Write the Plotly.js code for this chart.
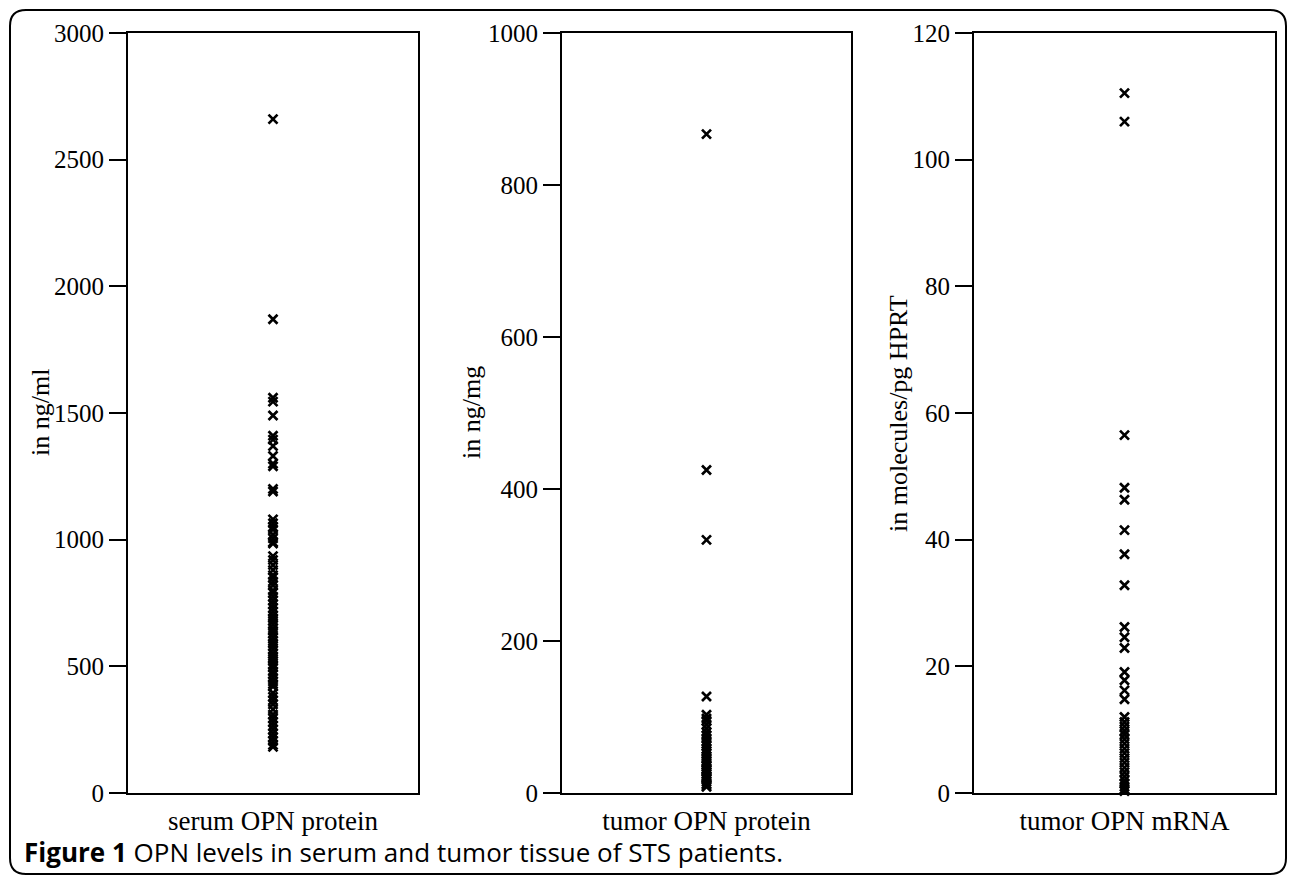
<!DOCTYPE html>
<html>
<head>
<meta charset="utf-8">
<script src="https://cdn.plot.ly/plotly-3.0.1.min.js"></script>
<style>html,body{margin:0;padding:0;background:#fff;}#chart{width:1290px;height:878px;}</style>
</head>
<body>
<div id="chart"></div>
<script>
// ---- data ----
const categories = ["serum OPN protein", "tumor OPN protein", "tumor OPN mRNA"];
const yTitles = ["in ng/ml", "in ng/mg", "in molecules/pg HPRT"];
const serumProtein = [2660, 1870, 1560, 1545, 1490, 1410, 1395, 1370, 1330, 1300, 1290, 1200, 1190,
  1080, 1065, 1050, 1040, 1020, 1005, 990, 985, 935, 920, 900, 880, 860, 850, 835, 820, 800, 790,
  775, 760, 745, 730, 715, 700, 690, 680, 665, 650, 640, 630, 615, 600, 590, 580, 565, 550, 540,
  530, 520, 505, 495, 480, 470, 455, 440, 430, 420, 395, 380, 365, 350, 330, 310, 295, 280, 265,
  250, 235, 220, 205, 190, 182];
const tumorProtein = [867, 425, 333, 127, 103, 98, 95, 90, 85, 80, 76, 72, 68, 65, 62, 58, 55, 52,
  48, 45, 42, 40, 37, 35, 32, 30, 28, 25, 22, 20, 18, 15, 12, 10, 8];
const tumorMRNA = [110.5, 106, 56.5, 48.2, 46.3, 41.5, 37.7, 32.8, 26.2, 24.6, 22.9, 19.1, 17.8,
  16.2, 14.8, 12, 11.2, 10.5, 9.8, 9.2, 8.5, 7.8, 7, 6.3, 5.5, 4.8, 4, 3.3, 2.6, 2, 1.5, 1, 0.6, 0.3];
const yRanges = [[0, 3000], [0, 1000], [0, 120]];
const yTicks = [
  [0, 500, 1000, 1500, 2000, 2500, 3000],
  [0, 200, 400, 600, 800, 1000],
  [0, 20, 40, 60, 80, 100, 120]
];
const caption = "<b>Figure 1</b> OPN levels in serum and tumor tissue of STS patients.";

// ---- layout helpers ----
const W = 1290, H = 878;
const px = v => v / W;
const py = v => 1 - v / H;
const xDomains = [[px(128), px(418)], [px(562), px(851)], [px(974), px(1275)]];
const yDomain = [py(793), py(33)];
const serif = "Liberation Serif, Times New Roman, serif";

const series = [serumProtein, tumorProtein, tumorMRNA];
const traces = series.map((vals, i) => ({
  type: "scatter",
  mode: "markers",
  x: vals.map(() => categories[i]),
  y: vals,
  xaxis: i === 0 ? "x" : "x" + (i + 1),
  yaxis: i === 0 ? "y" : "y" + (i + 1),
  marker: {symbol: "x-thin", size: 9, color: "#000", line: {color: "#000", width: 2.7}},
  hoverinfo: "y",
  showlegend: false,
  cliponaxis: false
}));

const layout = {
  width: W, height: H,
  margin: {l: 0, r: 0, t: 0, b: 0},
  paper_bgcolor: "#fff", plot_bgcolor: "#fff",
  showlegend: false,
  font: {family: serif, color: "#000"},
  annotations: [],
  shapes: []
};

for (let i = 0; i < 3; i++) {
  const xs = i === 0 ? "" : String(i + 1);
  layout["xaxis" + xs] = {
    domain: xDomains[i],
    anchor: "y" + xs,
    type: "category",
    range: [-1, 1],
    showline: true, linecolor: "#000", linewidth: 2, mirror: true,
    showgrid: false, zeroline: false,
    ticks: "", ticklabelstandoff: 3,
    tickfont: {family: serif, size: 27, color: "#000"},
    automargin: false, fixedrange: true
  };
  layout["yaxis" + xs] = {
    domain: yDomain,
    anchor: "x" + xs,
    range: yRanges[i],
    tickmode: "array", tickvals: yTicks[i], ticktext: yTicks[i].map(String),
    showline: true, linecolor: "#000", linewidth: 2, mirror: true,
    showgrid: false, zeroline: false,
    ticks: "outside", ticklen: 17, tickwidth: 2, tickcolor: "#000",
    tickfont: {family: serif, size: 25, color: "#000"},
    automargin: false, fixedrange: true
  };
  layout.annotations.push({
    xref: "paper", yref: "paper",
    x: [px(40), px(471), px(898)][i], y: (yDomain[0] + yDomain[1]) / 2,
    text: yTitles[i], textangle: -90, showarrow: false,
    xanchor: "center", yanchor: "middle",
    font: {family: serif, size: 26, color: "#000"}
  });
}

layout.annotations.push({
  xref: "paper", yref: "paper",
  x: px(22), y: py(852), xanchor: "left", yanchor: "middle",
  text: caption, showarrow: false,
  font: {family: "Open Sans, Noto Sans, sans-serif", size: 26, color: "#000"}
});

// outer rounded frame
const L = px(10), R = px(1286), T = py(10), B = py(874), rx = px(16), ry = 16 / H;
layout.shapes.push({
  type: "path", xref: "paper", yref: "paper",
  path: `M ${L + rx} ${T} L ${R - rx} ${T} Q ${R} ${T} ${R} ${T - ry} L ${R} ${B + ry} Q ${R} ${B} ${R - rx} ${B} ` +
        `L ${L + rx} ${B} Q ${L} ${B} ${L} ${B + ry} L ${L} ${T - ry} Q ${L} ${T} ${L + rx} ${T} Z`,
  line: {color: "#000", width: 2}, fillcolor: "rgba(0,0,0,0)"
});

Plotly.newPlot("chart", traces, layout, {displayModeBar: false, staticPlot: true});
</script>
</body>
</html>
